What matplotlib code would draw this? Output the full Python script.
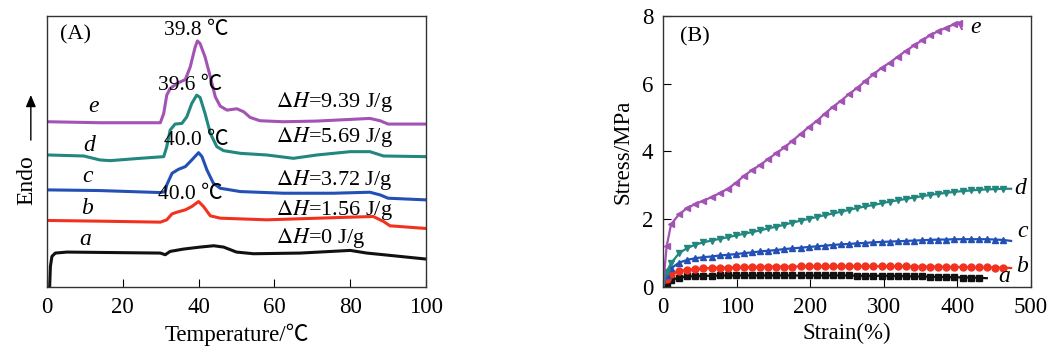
import matplotlib
matplotlib.use("Agg")
import matplotlib.pyplot as plt

plt.rcParams['font.family'] = ['Liberation Serif', 'Noto Sans CJK SC', 'DejaVu Serif']
plt.rcParams['mathtext.fontset'] = 'stix'

# ---- (A) DSC curves: temperature (C) and heat flow (arbitrary, offset) ----
t_a = [0.7, 0.9, 1.3, 2.2, 5.3, 29.9, 31.2, 32.5, 36, 40.4, 44, 46.6, 50, 54.5, 66.8, 80, 84.4, 88.8, 100]
h_a = [0, 0.62, 0.92, 1.02, 1.05, 1.02, 0.97, 1.07, 1.14, 1.20, 1.24, 1.20, 1.05, 1.00, 1.02, 1.10, 1.02, 0.97, 0.84]

t_b = [0.4, 14, 29.9, 31.6, 33, 34.3, 36.5, 38.2, 40, 41.3, 43.1, 45.7, 58, 80, 86.1, 88.8, 90.5, 100]
h_b = [2.00, 1.98, 1.95, 2.02, 2.20, 2.25, 2.32, 2.42, 2.57, 2.42, 2.14, 2.07, 2.02, 2.10, 2.12, 1.97, 1.84, 1.76]

t_c = [0.4, 14, 29.9, 31.2, 31.6, 33, 34.7, 36.5, 38.2, 40, 40.9, 42.2, 43.9, 45.7, 51, 62.4, 75.6, 85.2, 87.9, 90, 100]
h_c = [2.92, 2.90, 2.84, 2.87, 3.07, 3.42, 3.54, 3.62, 3.82, 4.04, 3.92, 3.52, 3.12, 2.97, 2.87, 2.82, 2.82, 2.85, 2.77, 2.67, 2.62]

t_d = [0.4, 9.7, 14, 16.7, 24.6, 30.8, 31.6, 32.5, 33.8, 35.6, 36.9, 38.2, 39.5, 40.4, 41.7, 43.1, 44.8,
       46.6, 51, 58, 65, 71.2, 80, 85.2, 88.8, 100]
h_d = [3.97, 3.94, 3.82, 3.80, 3.87, 3.92, 4.22, 4.72, 4.90, 4.92, 5.12, 5.52, 5.77, 5.70, 5.22, 4.62, 4.22,
       4.10, 4.02, 3.97, 3.87, 3.97, 4.07, 4.07, 3.94, 3.92]

t_e = [0.4, 14, 29.9, 30.8, 31.6, 32.5, 34.3, 36.5, 37.8, 39.1, 39.7, 40.4, 41.7, 43.1, 44.4, 45.7, 47.5,
       50.1, 51.9, 53.6, 56.2, 62.4, 71.2, 80, 85.2, 87.9, 90, 100]
h_e = [4.97, 4.94, 4.94, 5.22, 5.77, 5.97, 6.12, 6.24, 6.62, 7.22, 7.40, 7.32, 6.92, 6.32, 5.72, 5.44, 5.32,
       5.36, 5.27, 5.10, 5.00, 4.97, 4.99, 5.04, 5.07, 5.00, 4.90, 4.90]

peak_labels = ["39.8 ℃", "39.6 ℃", "40.0 ℃", "40.0 ℃"]
enthalpy_labels = ["9.39", "5.69", "3.72", "1.56", "0"]

# ---- (B) stress-strain curves ----
strain = [0, 5, 11, 22, 33, 44, 55, 66, 77, 88, 99, 110, 121, 132, 143, 154, 165, 176, 187, 198, 209, 220,
          231, 242, 253, 264, 275, 286, 297, 308, 319, 330, 341, 352, 363, 374, 385, 396, 407, 418, 429,
          440, 451, 462, 473]
strain_e = strain[:38] + [402, 406]

stress_a = [0, 0.10, 0.20, 0.28, 0.31, 0.32, 0.33, 0.33, 0.34, 0.34, 0.34, 0.34, 0.34, 0.34, 0.34, 0.34,
            0.34, 0.34, 0.34, 0.34, 0.34, 0.34, 0.34, 0.34, 0.34, 0.33, 0.33, 0.33, 0.33, 0.33, 0.32,
            0.32, 0.31, 0.31, 0.30, 0.30, 0.29, 0.29, 0.28, 0.28, 0.27, 0.26]
stress_b = [0, 0.25, 0.38, 0.47, 0.51, 0.53, 0.55, 0.56, 0.57, 0.57, 0.58, 0.58, 0.59, 0.59, 0.60, 0.60,
            0.60, 0.60, 0.61, 0.61, 0.61, 0.61, 0.61, 0.61, 0.61, 0.61, 0.61, 0.61, 0.61, 0.61, 0.61,
            0.61, 0.60, 0.60, 0.60, 0.60, 0.59, 0.59, 0.59, 0.58, 0.58, 0.58, 0.57, 0.57, 0.56]
stress_c = [0, 0.35, 0.55, 0.72, 0.80, 0.85, 0.88, 0.90, 0.93, 0.95, 0.97, 1.00, 1.02, 1.05, 1.07, 1.09,
            1.12, 1.14, 1.16, 1.18, 1.20, 1.22, 1.24, 1.26, 1.27, 1.29, 1.30, 1.32, 1.33, 1.34, 1.35,
            1.36, 1.37, 1.38, 1.39, 1.40, 1.40, 1.41, 1.41, 1.41, 1.41, 1.41, 1.40, 1.39, 1.36]
stress_d = [0, 0.45, 0.70, 1.00, 1.15, 1.25, 1.32, 1.37, 1.42, 1.47, 1.52, 1.57, 1.62, 1.67, 1.73, 1.78,
            1.84, 1.90, 1.96, 2.01, 2.07, 2.12, 2.17, 2.22, 2.28, 2.33, 2.38, 2.42, 2.47, 2.52, 2.56,
            2.60, 2.64, 2.68, 2.72, 2.75, 2.78, 2.81, 2.83, 2.85, 2.87, 2.88, 2.89, 2.90, 2.90]
stress_e = [0, 1.20, 1.85, 2.15, 2.33, 2.45, 2.55, 2.65, 2.77, 2.90, 3.07, 3.28, 3.45, 3.60, 3.78, 3.95,
            4.12, 4.32, 4.52, 4.72, 4.90, 5.12, 5.32, 5.50, 5.70, 5.88, 6.08, 6.28, 6.47, 6.62, 6.80,
            6.97, 7.13, 7.28, 7.43, 7.55, 7.66, 7.76, 7.80, 7.62]

purple = '#a253b3'
teal = '#21877f'
blue = '#2350b4'
red = '#f2321f'
black = '#111111'

fig = plt.figure(figsize=(10.56, 3.59), dpi=100)
axA = fig.add_axes([0.0445, 0.2006, 0.3589, 0.7548])
axB = fig.add_axes([0.6278, 0.2006, 0.3485, 0.7548])

# panel A
for t, h, c in [(t_a, h_a, black), (t_b, h_b, red), (t_c, h_c, blue), (t_d, h_d, teal), (t_e, h_e, purple)]:
    axA.plot(t, h, color=c, lw=2.2, solid_joinstyle='round')

axA.set_xlim(0, 100)
axA.set_ylim(0, 8.15)
axA.set_xticks([0, 20, 40, 60, 80, 100])
axA.set_yticks([])
axA.tick_params(axis='x', direction='in', length=6, labelsize=16.5, pad=7)
axA.set_xlabel("Temperature/℃", fontsize=16.5, labelpad=4)

axA.text(7.5, 7.57, "(A)", fontsize=16, ha='center', va='center')
for (x, y), s in zip([(39.5, 7.72), (37.8, 6.07), (39.5, 4.42), (37.8, 2.77)], peak_labels):
    axA.text(x, y, s, fontsize=15.5, ha='center', va='center')
for (x, y), s in zip([(12.3, 5.42), (11.2, 4.27), (10.7, 3.32), (10.7, 2.37), (10.1, 1.42)], "edcba"):
    axA.text(x, y, s, fontsize=17, style='italic', ha='center', va='center')
for y, s in zip([5.57, 4.52, 3.22, 2.32, 1.47], enthalpy_labels):
    axA.text(60.5, y, r"$\Delta H$=" + s + " J/g", fontsize=16, ha='left', va='center')

# Endo arrow and label
fig.text(0.0255, 0.4986, "Endo", rotation=90, fontsize=17, ha='center', va='center')
fig.patches.append(matplotlib.patches.FancyArrowPatch(
    (0.0292, 0.602), (0.0292, 0.743), transform=fig.transFigure,
    arrowstyle='-|>,head_width=3,head_length=7', color='black', lw=1))

# panel B
series = [(strain[:len(stress_a)], stress_a, black, 's'),
          (strain, stress_b, red, 'o'),
          (strain, stress_c, blue, '^'),
          (strain, stress_d, teal, 'v'),
          (strain_e, stress_e, purple, '<')]
for x, y, c, m in series:
    axB.plot(x, y, color=c, lw=1.6, marker=m, markersize=5, markevery=list(range(1, len(x) - 1)))

axB.set_xlim(0, 500)
axB.set_ylim(0, 8)
axB.set_xticks([0, 100, 200, 300, 400, 500])
axB.set_yticks([0, 2, 4, 6, 8])
axB.tick_params(direction='in', length=6, labelsize=16.5, pad=7)
axB.set_xlabel("Strain(%)", fontsize=16.5, labelpad=4)
axB.set_ylabel("Stress/MPa", fontsize=16.5, labelpad=6)

axB.text(43, 7.39, "(B)", fontsize=16, ha='center', va='center')
for (x, y), s in zip([(424, 7.67), (485, 2.92), (488, 1.63), (488, 0.60), (464, 0.30)], "edcba"):
    axB.text(x, y, s, fontsize=17, style='italic', ha='center', va='center')

for ax in (axA, axB):
    for sp in ax.spines.values():
        sp.set_linewidth(1.0)
        sp.set_color('#333333')

fig.savefig("out.png", dpi=100)
